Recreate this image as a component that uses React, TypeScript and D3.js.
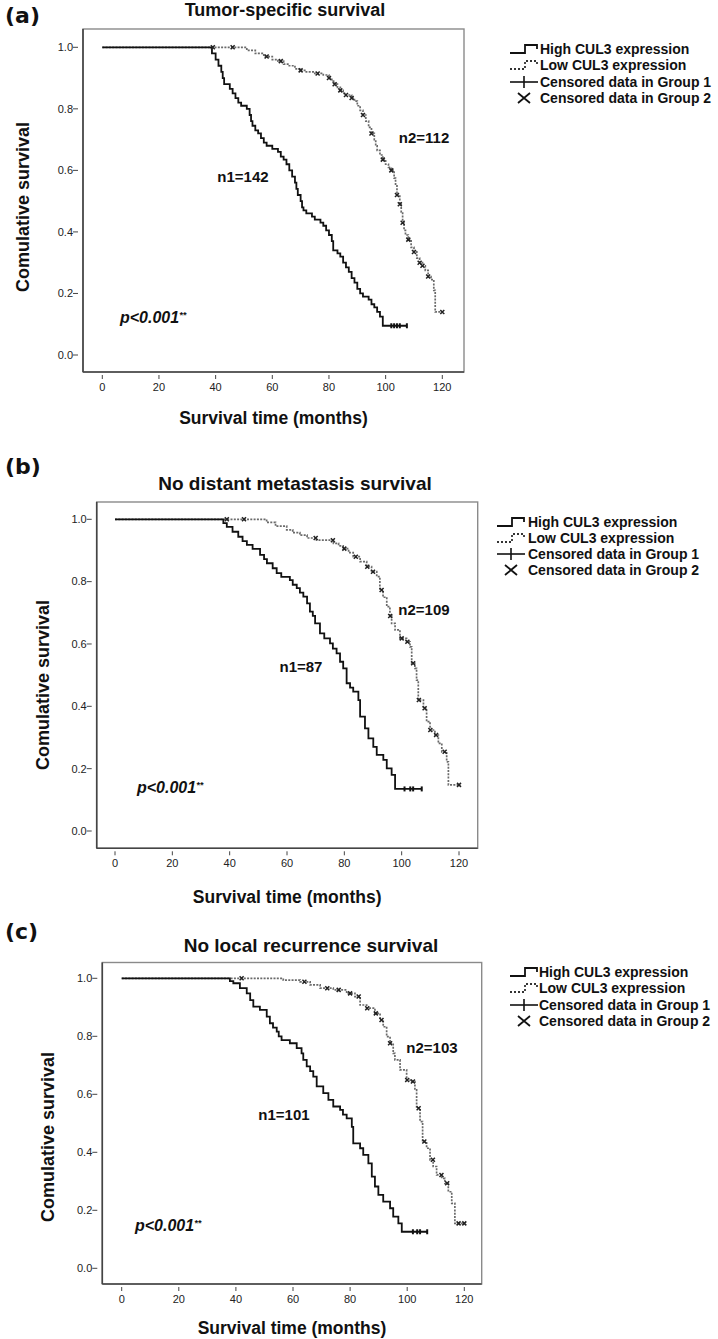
import React from "react";
import * as d3 from "d3";

// ---------- data ----------
const monthTicks = [0, 20, 40, 60, 80, 100, 120];
const survivalTicks = [0, 0.2, 0.4, 0.6, 0.8, 1.0];
const tickFormat = (v: number) => v.toFixed(1);

const legendLabels = [
  "High CUL3 expression",
  "Low CUL3 expression",
  "Censored data in Group 1",
  "Censored data in Group 2",
];

// (a) Tumor-specific survival: [month, survival after the drop]
const tsHighSteps: [number, number][] = [
  [38.7, 0.98], [40, 0.96], [41, 0.94], [42, 0.92], [42.5, 0.9], [43, 0.88], [45, 0.865], [46, 0.85],
  [47, 0.835], [48, 0.82], [49, 0.81], [51, 0.8], [52, 0.78], [52.5, 0.76], [53, 0.745], [54, 0.73],
  [55, 0.72], [56, 0.705], [57, 0.69], [58, 0.68], [60, 0.67], [62, 0.66], [63, 0.645], [64, 0.635],
  [65, 0.62], [66, 0.6], [67, 0.58], [68, 0.56], [68.5, 0.54], [69, 0.52], [70, 0.5], [70.5, 0.48],
  [71, 0.47], [72, 0.46], [74, 0.45], [75, 0.44], [77, 0.43], [78, 0.42], [79, 0.405], [80, 0.39],
  [81, 0.37], [81.5, 0.34], [83, 0.33], [84, 0.32], [85, 0.3], [86, 0.285], [87, 0.27], [88, 0.25],
  [89, 0.235], [90, 0.215], [91, 0.2], [92, 0.19], [94, 0.18], [95, 0.165], [96, 0.155], [97, 0.14],
  [98, 0.125], [99, 0.095],
];
const tsHighCensored = [102, 103, 104, 105, 107.5];
const tsHighEnd = 107.5;
const tsLowSteps: [number, number][] = [
  [51, 0.99], [54, 0.98], [57, 0.97], [60, 0.96], [62, 0.955], [64, 0.945], [66, 0.94], [68, 0.93],
  [70, 0.925], [72, 0.92], [75, 0.915], [78, 0.91], [80, 0.9], [81, 0.89], [82, 0.88], [83, 0.87],
  [84, 0.86], [85, 0.85], [86, 0.845], [88, 0.835], [89, 0.825], [90, 0.81], [91, 0.795], [92, 0.78],
  [93, 0.76], [94, 0.74], [95, 0.72], [96, 0.7], [96.5, 0.68], [97, 0.665], [98, 0.65], [99, 0.635],
  [100, 0.62], [101, 0.61], [102, 0.6], [103, 0.575], [103.5, 0.55], [104, 0.52], [105, 0.49],
  [105.5, 0.465], [106, 0.43], [106.5, 0.405], [107, 0.39], [108, 0.375], [109, 0.35], [110, 0.335],
  [111, 0.315], [112, 0.3], [113, 0.29], [114, 0.275], [115, 0.255], [116, 0.245], [117, 0.21],
  [117.5, 0.14],
];
const tsLowCensored = [39, 46, 58, 63, 70, 76, 80, 82, 84, 86, 88, 92, 95, 99, 102, 104, 105, 106, 108, 110, 112, 113, 115, 120];
const tsLowEnd = 120;

// (b) No distant metastasis survival
const dmHighSteps: [number, number][] = [
  [37.8, 0.988], [39, 0.976], [41, 0.96], [43, 0.944], [44.5, 0.93], [46, 0.918], [48, 0.905],
  [50.6, 0.886], [52, 0.872], [53, 0.859], [55, 0.843], [56.4, 0.827], [58, 0.815], [61, 0.805],
  [62, 0.79], [63.4, 0.779], [64.5, 0.765], [65.7, 0.752], [67, 0.73], [68, 0.704], [69, 0.69],
  [69.8, 0.666], [71.5, 0.634], [73, 0.618], [75, 0.602], [76, 0.585], [77.3, 0.57], [78.5, 0.543],
  [79.6, 0.522], [80.8, 0.474], [82, 0.46], [83.1, 0.447], [84.9, 0.42], [85.5, 0.367],
  [87.2, 0.329], [88.4, 0.297], [90.1, 0.27], [91.3, 0.244], [93.6, 0.228], [94.8, 0.201],
  [96.5, 0.18], [97.7, 0.135],
];
const dmHighCensored = [101, 103, 104, 107];
const dmHighEnd = 107;
const dmLowSteps: [number, number][] = [
  [52.9, 0.99], [56, 0.978], [59.9, 0.966], [62, 0.957], [64.5, 0.949], [67, 0.94], [70.3, 0.933],
  [76.2, 0.923], [78, 0.915], [79.6, 0.906], [81.5, 0.893], [83.1, 0.88], [85.5, 0.864],
  [87.8, 0.848], [89.5, 0.832], [91.3, 0.816], [92.4, 0.773], [93.5, 0.75], [94.8, 0.72],
  [95.9, 0.69], [96.5, 0.666], [97.7, 0.645], [99.4, 0.618], [101.7, 0.607], [102.9, 0.591],
  [103.5, 0.538], [104.6, 0.522], [105.2, 0.484], [105.8, 0.42], [107.6, 0.394], [108.7, 0.351],
  [109.9, 0.324], [111.6, 0.308], [112.8, 0.281], [114, 0.254], [115.7, 0.222], [116.3, 0.148],
];
const dmLowCensored = [39, 45, 70, 76, 80, 84, 88, 90, 93, 96, 100, 102, 104, 106, 108, 110, 112, 115, 120];
const dmLowEnd = 120;

// (c) No local recurrence survival
const lrHighSteps: [number, number][] = [
  [37.9, 0.99], [39.1, 0.983], [41.4, 0.966], [43.8, 0.948], [45, 0.925], [46.1, 0.902],
  [48.4, 0.891], [50.8, 0.868], [51.9, 0.845], [53, 0.83], [54.3, 0.816], [55, 0.8], [56, 0.787],
  [58.9, 0.776], [61.3, 0.759], [63, 0.741], [63.6, 0.719], [64.8, 0.696], [66, 0.68],
  [67.1, 0.661], [68.3, 0.627], [70.6, 0.604], [72.4, 0.581], [74.1, 0.558], [76.5, 0.546],
  [77.5, 0.53], [78.8, 0.517], [80.6, 0.488], [81.1, 0.431], [83.5, 0.414], [84.6, 0.391],
  [86.4, 0.362], [87.6, 0.316], [88.7, 0.282], [89.9, 0.253], [91.6, 0.23], [94, 0.207],
  [95.1, 0.178], [96.9, 0.155], [98.1, 0.126],
];
const lrHighCensored = [102, 103.5, 104.5, 107];
const lrHighEnd = 107;
const lrLowSteps: [number, number][] = [
  [56.6, 0.994], [62.5, 0.988], [66, 0.977], [69.5, 0.966], [74.1, 0.96], [78.8, 0.948],
  [81.7, 0.937], [83.5, 0.908], [85.8, 0.897], [88.7, 0.879], [90.5, 0.856], [91.6, 0.833],
  [92.8, 0.799], [94, 0.776], [95.1, 0.741], [95.7, 0.719], [97.5, 0.684], [99.8, 0.649],
  [101.6, 0.644], [102.7, 0.615], [103.3, 0.552], [104.5, 0.506], [105.4, 0.437], [106.8, 0.414],
  [108, 0.374], [109.1, 0.351], [110.3, 0.322], [112.1, 0.31], [113.2, 0.293], [114.4, 0.264],
  [115.6, 0.224], [116.7, 0.155],
];
const lrLowCensored = [42, 64, 72, 76, 80, 83, 86, 89, 91, 94, 100, 102, 104, 106, 109, 112, 114, 118, 120];
const lrLowEnd = 120;

// ---------- layout ----------
type Steps = [number, number][];
interface PanelCfg {
  tag: string; tagY: number;
  title: string; titleX: number; titleY: number; titleSize: number;
  frame: { l: number; t: number; r: number; b: number };
  x0: number; x120: number; y1: number; y0: number;
  yLabelX: number; yLabelY: number; xLabelY: number;
  n1: string; n1Pos: [number, number]; n2: string; n2Pos: [number, number];
  pPos: [number, number];
  legX: number; legTextX: number; legY: number[];
  high: Steps; highCens: number[]; highEnd: number;
  low: Steps; lowCens: number[]; lowEnd: number;
}

const panels: PanelCfg[] = [
  {
    tag: "(a)", tagY: 23, title: "Tumor-specific survival", titleX: 285, titleY: 16, titleSize: 18,
    frame: { l: 83, t: 29, r: 464, b: 372 }, x0: 102.3, x120: 442.3, y1: 47.3, y0: 355,
    yLabelX: 23, yLabelY: 207, xLabelY: 424,
    n1: "n1=142", n1Pos: [243, 177], n2: "n2=112", n2Pos: [424, 138], pPos: [120, 317],
    legX: 510, legTextX: 540, legY: [49, 65, 82, 98],
    high: tsHighSteps, highCens: tsHighCensored, highEnd: tsHighEnd,
    low: tsLowSteps, lowCens: tsLowCensored, lowEnd: tsLowEnd,
  },
  {
    tag: "(b)", tagY: 474, title: "No distant metastasis survival", titleX: 295, titleY: 490, titleSize: 19,
    frame: { l: 96.7, t: 502, r: 477.7, b: 848.3 }, x0: 115, x120: 459, y1: 519.3, y0: 831,
    yLabelX: 43, yLabelY: 685, xLabelY: 903,
    n1: "n1=87", n1Pos: [301, 667], n2: "n2=109", n2Pos: [424, 610], pPos: [137, 787],
    legX: 497, legTextX: 528, legY: [522, 538, 554, 570],
    high: dmHighSteps, highCens: dmHighCensored, highEnd: dmHighEnd,
    low: dmLowSteps, lowCens: dmLowCensored, lowEnd: dmLowEnd,
  },
  {
    tag: "(c)", tagY: 939, title: "No local recurrence survival", titleX: 311, titleY: 952, titleSize: 19,
    frame: { l: 102.3, t: 962.5, r: 481.7, b: 1284 }, x0: 121.7, x120: 464.3, y1: 978.3, y0: 1268.3,
    yLabelX: 48, yLabelY: 1137, xLabelY: 1334,
    n1: "n1=101", n1Pos: [284, 1115], n2: "n2=103", n2Pos: [432, 1048], pPos: [135, 1225],
    legX: 510, legTextX: 539, legY: [972, 988, 1005, 1021],
    high: lrHighSteps, highCens: lrHighCensored, highEnd: lrHighEnd,
    low: lrLowSteps, lowCens: lrLowCensored, lowEnd: lrLowEnd,
  },
];

const SANS = "'Liberation Sans', Arial, Helvetica, sans-serif";
const TAGFONT = "'DejaVu Sans', Verdana, sans-serif";

function survivalAt(steps: Steps, t: number) {
  let s = 1;
  for (const [tt, v] of steps) if (tt <= t) s = v;
  return s;
}

function Panel({ c }: { c: PanelCfg }) {
  const x = d3.scaleLinear().domain([0, 120]).range([c.x0, c.x120]);
  const y = d3.scaleLinear().domain([0, 1]).range([c.y0, c.y1]);
  const line = d3
    .line<[number, number]>()
    .x((d) => x(d[0]))
    .y((d) => y(d[1]))
    .curve(d3.curveStepAfter);
  const pts = (steps: Steps, end: number): [number, number][] => [
    [0, 1],
    ...steps,
    [end, steps[steps.length - 1][1]],
  ];
  const f = c.frame;
  const lg = c.legX;
  return (
    <g>
      <text x={5} y={c.tagY} fontFamily={TAGFONT} fontWeight="bold" fontSize={22} fill="#111">
        {c.tag}
      </text>
      <text x={c.titleX} y={c.titleY} textAnchor="middle" fontFamily={SANS} fontWeight="bold" fontSize={c.titleSize} fill="#111">
        {c.title}
      </text>
      {/* frame */}
      <rect x={f.l} y={f.t} width={f.r - f.l} height={f.b - f.t} fill="white" stroke="#8a8a8a" strokeWidth={1.4} />
      <line x1={f.l} x2={f.l} y1={f.t} y2={f.b} stroke="#444" strokeWidth={1.6} />
      <line x1={f.l} x2={f.r} y1={f.b} y2={f.b} stroke="#444" strokeWidth={1.6} />
      {/* y ticks */}
      {survivalTicks.map((v) => (
        <g key={"y" + v}>
          <line x1={f.l - 10} x2={f.l - 5} y1={y(v)} y2={y(v)} stroke="#444" strokeWidth={1} />
          <text x={f.l - 10} y={y(v)} dy="0.35em" textAnchor="end" fontFamily={SANS} fontSize={11} fill="#222">
            {tickFormat(v)}
          </text>
        </g>
      ))}
      {/* x ticks */}
      {monthTicks.map((v) => (
        <g key={"x" + v}>
          <line x1={x(v)} x2={x(v)} y1={f.b + 3} y2={f.b + 7} stroke="#444" strokeWidth={1} />
          <text x={x(v)} y={f.b + 15} dy="0.35em" textAnchor="middle" fontFamily={SANS} fontSize={11} fill="#222">
            {v}
          </text>
        </g>
      ))}
      <text
        transform={`translate(${c.yLabelX},${c.yLabelY}) rotate(-90)`}
        textAnchor="middle"
        dy="0.35em"
        fontFamily={SANS}
        fontWeight="bold"
        fontSize={18}
        fill="#111"
      >
        Comulative survival
      </text>
      <text x={(f.l + f.r) / 2} y={c.xLabelY} textAnchor="middle" fontFamily={SANS} fontWeight="bold" fontSize={17.5} fill="#111">
        Survival time (months)
      </text>
      {/* curves */}
      <path d={line(pts(c.low, c.lowEnd)) || ""} fill="none" stroke="#6a6a6a" strokeWidth={1.7} strokeDasharray="2 1.3" />
      <path d={line(pts(c.high, c.highEnd)) || ""} fill="none" stroke="#111" strokeWidth={1.8} />
      {c.highCens.map((t, i) => (
        <line key={"hc" + i} x1={x(t)} x2={x(t)} y1={y(survivalAt(c.high, t)) - 2.5} y2={y(survivalAt(c.high, t)) + 2.5} stroke="#111" strokeWidth={2} />
      ))}
      {c.lowCens.map((t, i) => {
        const cx = x(t);
        const cy = y(survivalAt(c.low, t));
        return (
          <path key={"lc" + i} d={`M${cx - 2},${cy - 2}L${cx + 2},${cy + 2}M${cx - 2},${cy + 2}L${cx + 2},${cy - 2}`} stroke="#222" strokeWidth={1.5} />
        );
      })}
      {/* annotations */}
      <text x={c.n1Pos[0]} y={c.n1Pos[1]} dy="0.35em" textAnchor="middle" fontFamily={SANS} fontWeight="bold" fontSize={15} fill="#111">
        {c.n1}
      </text>
      <text x={c.n2Pos[0]} y={c.n2Pos[1]} dy="0.35em" textAnchor="middle" fontFamily={SANS} fontWeight="bold" fontSize={15} fill="#111">
        {c.n2}
      </text>
      <text x={c.pPos[0]} y={c.pPos[1]} dy="0.35em" fontFamily={SANS} fontWeight="bold" fontStyle="italic" fontSize={16} fill="#111">
        p&lt;0.001
        <tspan fontSize={9} dy="-0.55em">**</tspan>
      </text>
      {/* legend */}
      <path d={`M${lg},${c.legY[0] + 4}H${lg + 15}V${c.legY[0] - 4}H${lg + 27}V${c.legY[0]}`} fill="none" stroke="#111" strokeWidth={1.8} />
      <path d={`M${lg},${c.legY[1] + 4}H${lg + 15}V${c.legY[1] - 4}H${lg + 27}V${c.legY[1]}`} fill="none" stroke="#333" strokeWidth={1.8} strokeDasharray="2 2" />
      <line x1={lg} x2={lg + 28} y1={c.legY[2]} y2={c.legY[2]} stroke="#111" strokeWidth={1.6} />
      <line x1={lg + 14} x2={lg + 14} y1={c.legY[2] - 6} y2={c.legY[2] + 6} stroke="#111" strokeWidth={1.6} />
      <path
        d={`M${lg + 8},${c.legY[3] - 5}L${lg + 20},${c.legY[3] + 5}M${lg + 8},${c.legY[3] + 5}L${lg + 20},${c.legY[3] - 5}`}
        stroke="#111"
        strokeWidth={1.8}
      />
      {legendLabels.map((s, i) => (
        <text key={s} x={c.legTextX} y={c.legY[i]} dy="0.35em" fontFamily={SANS} fontWeight="bold" fontSize={14} fill="#111">
          {s}
        </text>
      ))}
    </g>
  );
}

export default function App() {
  return (
    <svg
      width={718}
      height={1339}
      viewBox="0 0 718 1339"
      style={{ position: "absolute", left: 0, top: 0, background: "white" }}
    >
      <rect x={0} y={0} width={718} height={1339} fill="white" />
      {panels.map((p) => (
        <Panel key={p.tag} c={p} />
      ))}
    </svg>
  );
}
